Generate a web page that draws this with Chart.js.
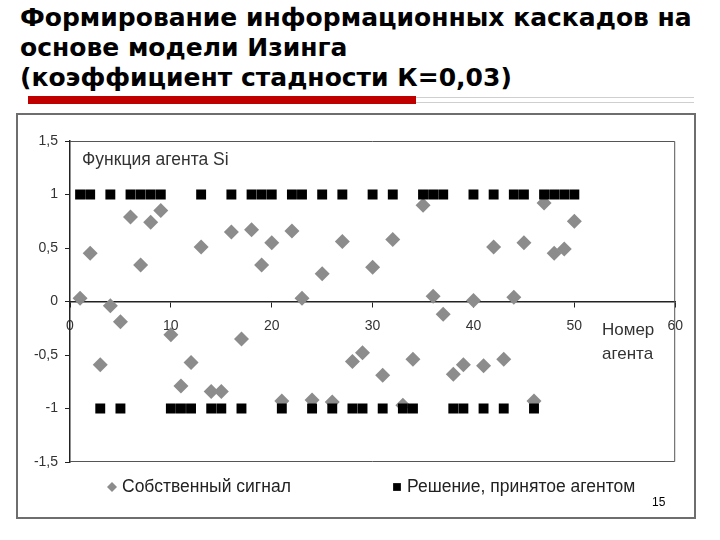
<!DOCTYPE html>
<html lang="ru">
<head>
<meta charset="utf-8">
<title>Информационные каскады</title>
<script src="https://cdn.jsdelivr.net/npm/chart.js@4.4.0/dist/chart.umd.min.js"></script>
<style>
  html, body { margin: 0; padding: 0; background: #fff; }
  body { width: 720px; height: 540px; position: relative; overflow: hidden; }
  #title { position: absolute; left: 20px; top: 3px; font: bold 25px "DejaVu Sans", Verdana, sans-serif; line-height: 30px; color: #000; white-space: nowrap; }
  #rule_gray { position: absolute; left: 28px; top: 97px; width: 666px; height: 4px; border-top: 1px solid #cfcfcf; border-bottom: 1px solid #cfcfcf; }
  #rule_red { position: absolute; left: 28px; top: 96px; width: 388px; height: 8px; background: #c00000; }
  #frame { position: absolute; left: 16px; top: 113px; width: 676px; height: 402px; border: 2px solid #6e6e6e; }
  #frame canvas { position: absolute; left: 0; top: 0; }
  #num { position: absolute; left: 652px; top: 495px; font: 12px "Liberation Sans", Arial, sans-serif; color: #000; }
</style>
</head>
<body>
<div id="title">Формирование информационных каскадов на<br>основе модели Изинга<br>(коэффициент стадности К=0,03)</div>
<div id="rule_gray"></div>
<div id="rule_red"></div>
<div id="frame"><canvas id="chart" width="676" height="402"></canvas></div>
<div id="num">15</div>

<script>
// номер агента
const agents = [1, 2, 3, 4, 5, 6, 7, 8, 9, 10,
                11, 12, 13, 14, 15, 16, 17, 18, 19, 20,
                21, 22, 23, 24, 25, 26, 27, 28, 29, 30,
                31, 32, 33, 34, 35, 36, 37, 38, 39, 40,
                41, 42, 43, 44, 45, 46, 47, 48, 49, 50];

// собственный сигнал (серые ромбы)
const signal = [0.03, 0.45, -0.59, -0.04, -0.19, 0.79, 0.34, 0.74, 0.85, -0.31,
                -0.79, -0.57, 0.51, -0.84, -0.84, 0.65, -0.35, 0.67, 0.34, 0.55,
                -0.93, 0.66, 0.03, -0.92, 0.26, -0.94, 0.56, -0.56, -0.48, 0.32,
                -0.69, 0.58, -0.97, -0.54, 0.90, 0.05, -0.12, -0.68, -0.59, 0.01,
                -0.60, 0.51, -0.54, 0.04, 0.55, -0.93, 0.92, 0.45, 0.49, 0.75];

// решение агента (чёрные квадраты)
const decision = [1, 1, -1, 1, -1, 1, 1, 1, 1, -1,
                  -1, -1, 1, -1, -1, 1, -1, 1, 1, 1,
                  -1, 1, 1, -1, 1, -1, 1, -1, -1, 1,
                  -1, 1, -1, -1, 1, 1, 1, -1, -1, 1,
                  -1, 1, -1, 1, 1, -1, 1, 1, 1, 1];

const seriesNames = ['Собственный сигнал', 'Решение, принятое агентом'];
const xTicks = [0, 10, 20, 30, 40, 50, 60];
const yTicks = [-1.5, -1, -0.5, 0, 0.5, 1, 1.5];

const FONT = '"Liberation Sans", Arial, sans-serif';

function pts(vals) {
    var out = [];
    for (var i = 0; i < agents.length; i++) {
        out.push({ x: agents[i], y: vals[i] });
    }
    return out;
}

// подписи внутри графика, рамка области и легенда
const extras = {
    id: 'extras',
    afterDraw(chart) {
        const c = chart.ctx;
        const a = chart.chartArea;
        c.save();
        c.strokeStyle = '#555';
        c.lineWidth = 1;
        c.beginPath();
        c.moveTo(a.left, a.top + 0.5);
        c.lineTo(a.right - 0.5, a.top + 0.5);
        c.lineTo(a.right - 0.5, a.bottom - 0.5);
        c.lineTo(a.left, a.bottom - 0.5);
        c.stroke();

        c.fillStyle = '#333';
        c.font = '17.5px ' + FONT;
        c.textAlign = 'left';
        c.textBaseline = 'middle';
        c.fillText('Функция агента Si', 64, 45);
        c.font = '17px ' + FONT;
        c.fillText('Номер', 584, 215);
        c.fillText('агента', 584, 239);

        // легенда
        const lx = [94, 379];
        const rad = [5, 5.5];
        const ly = 372;
        c.font = '17.5px ' + FONT;
        chart.data.datasets.forEach(function (ds, i) {
            c.fillStyle = ds.backgroundColor;
            Chart.helpers.drawPoint(c, { pointStyle: ds.pointStyle, radius: rad[i], rotation: 0, borderWidth: 0 }, lx[i], ly);
            c.fillStyle = '#222';
            c.fillText(ds.label, lx[i] + 10, ly);
        });
        c.restore();
    }
};

const ctx = document.getElementById('chart').getContext('2d');
const myChart = new Chart(ctx, {
    type: 'scatter',
    data: {
        datasets: [
            {
                label: seriesNames[0],
                data: pts(signal),
                pointStyle: 'rectRot',
                pointRadius: 7.5,
                backgroundColor: '#8c8c8c',
                borderWidth: 0,
                order: 1
            },
            {
                label: seriesNames[1],
                data: pts(decision),
                pointStyle: 'rect',
                pointRadius: 7,
                backgroundColor: '#000',
                borderWidth: 0,
                order: 0
            }
        ]
    },
    options: {
        responsive: false,
        animation: false,
        events: [],
        layout: { padding: { left: 0, right: 18, top: 26, bottom: 55 } },
        plugins: {
            legend: { display: false },
            tooltip: { enabled: false }
        },
        scales: {
            x: {
                type: 'linear',
                min: 0,
                max: 60,
                position: { y: 0 },
                afterBuildTicks: function (s) { s.ticks = xTicks.map(v => ({ value: v })); },
                afterFit: function (s) { s.height = 0; },
                grid: { drawOnChartArea: false, drawTicks: true, tickLength: 5, color: '#222' },
                border: { display: true, color: '#222', width: 1.5, dash: [12, 4, 3, 4] },
                ticks: { font: { family: FONT, size: 14 }, color: '#333', padding: 11, maxRotation: 0 }
            },
            y: {
                type: 'linear',
                min: -1.5,
                max: 1.5,
                afterBuildTicks: function (s) { s.ticks = yTicks.map(v => ({ value: v })); },
                afterFit: function (s) { s.width = 52; },
                grid: { drawOnChartArea: false, drawTicks: true, tickLength: 5, color: '#222' },
                border: { display: true, color: '#222', width: 1.5 },
                ticks: {
                    font: { family: FONT, size: 14 },
                    color: '#333',
                    padding: 7,
                    callback: v => String(v).replace('.', ',')
                }
            }
        }
    },
    plugins: [extras]
});
</script>
</body>
</html>
